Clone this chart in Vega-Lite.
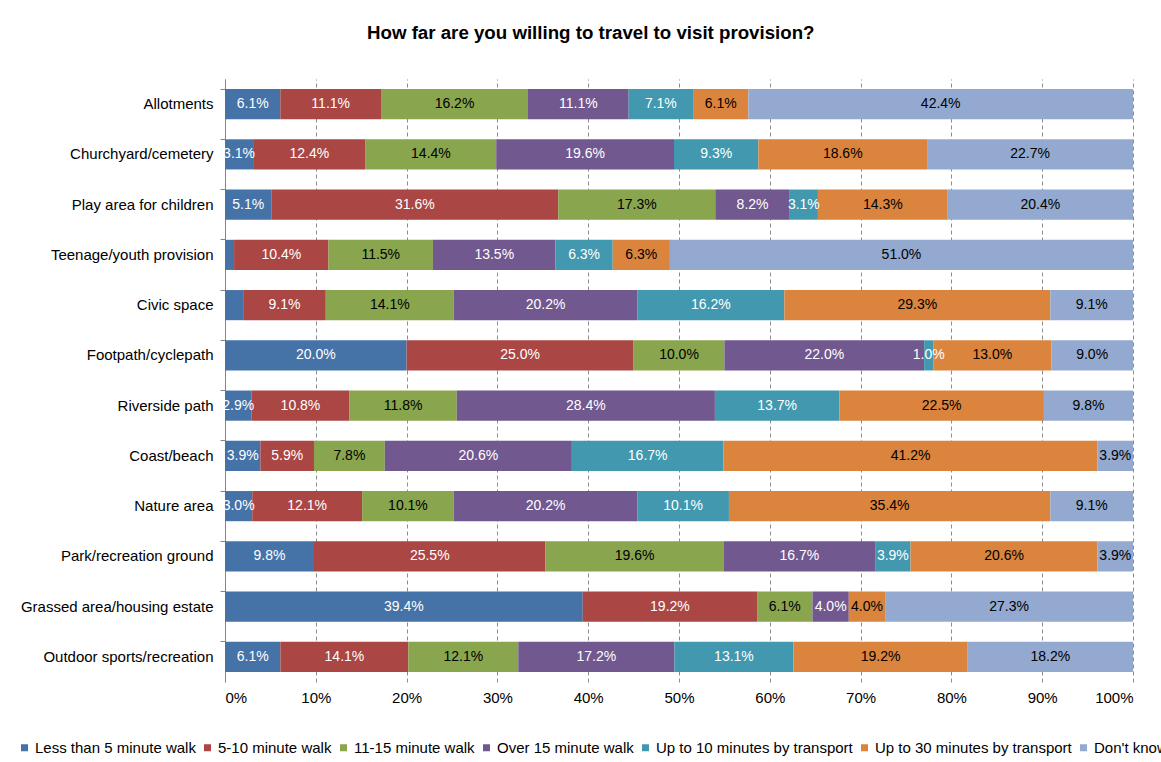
{
  "$schema": "https://vega.github.io/schema/vega-lite/v6.json",
  "width": 908,
  "height": 603,
  "autosize": {"type": "none"},
  "padding": {"left": 225, "top": 79, "right": 28, "bottom": 80},
  "background": "white",
  "config": {"view": {"stroke": null}, "font": "Liberation Sans"},
  "title": {
    "text": "How far are you willing  to travel to visit provision?",
    "anchor": "start",
    "frame": "group",
    "dx": 142,
    "offset": 36,
    "fontSize": 18.7,
    "fontWeight": "bold",
    "font": "Liberation Sans",
    "color": "#000000"
  },
  "data": {
    "values": [
      {"provision": "Allotments", "time": "Less than 5 minute walk", "pct": 6.1},
      {"provision": "Allotments", "time": "5-10 minute walk", "pct": 11.1},
      {"provision": "Allotments", "time": "11-15 minute walk", "pct": 16.2},
      {"provision": "Allotments", "time": "Over 15 minute walk", "pct": 11.1},
      {"provision": "Allotments", "time": "Up to 10 minutes by transport", "pct": 7.1},
      {"provision": "Allotments", "time": "Up to 30 minutes by transport", "pct": 6.1},
      {"provision": "Allotments", "time": "Don't know", "pct": 42.4},
      {"provision": "Churchyard/cemetery", "time": "Less than 5 minute walk", "pct": 3.1},
      {"provision": "Churchyard/cemetery", "time": "5-10 minute walk", "pct": 12.4},
      {"provision": "Churchyard/cemetery", "time": "11-15 minute walk", "pct": 14.4},
      {"provision": "Churchyard/cemetery", "time": "Over 15 minute walk", "pct": 19.6},
      {"provision": "Churchyard/cemetery", "time": "Up to 10 minutes by transport", "pct": 9.3},
      {"provision": "Churchyard/cemetery", "time": "Up to 30 minutes by transport", "pct": 18.6},
      {"provision": "Churchyard/cemetery", "time": "Don't know", "pct": 22.7},
      {"provision": "Play area for children", "time": "Less than 5 minute walk", "pct": 5.1},
      {"provision": "Play area for children", "time": "5-10 minute walk", "pct": 31.6},
      {"provision": "Play area for children", "time": "11-15 minute walk", "pct": 17.3},
      {"provision": "Play area for children", "time": "Over 15 minute walk", "pct": 8.2},
      {"provision": "Play area for children", "time": "Up to 10 minutes by transport", "pct": 3.1},
      {"provision": "Play area for children", "time": "Up to 30 minutes by transport", "pct": 14.3},
      {"provision": "Play area for children", "time": "Don't know", "pct": 20.4},
      {"provision": "Teenage/youth provision", "time": "Less than 5 minute walk", "pct": 1.0},
      {"provision": "Teenage/youth provision", "time": "5-10 minute walk", "pct": 10.4},
      {"provision": "Teenage/youth provision", "time": "11-15 minute walk", "pct": 11.5},
      {"provision": "Teenage/youth provision", "time": "Over 15 minute walk", "pct": 13.5},
      {"provision": "Teenage/youth provision", "time": "Up to 10 minutes by transport", "pct": 6.3},
      {"provision": "Teenage/youth provision", "time": "Up to 30 minutes by transport", "pct": 6.3},
      {"provision": "Teenage/youth provision", "time": "Don't know", "pct": 51.0},
      {"provision": "Civic space", "time": "Less than 5 minute walk", "pct": 2.0},
      {"provision": "Civic space", "time": "5-10 minute walk", "pct": 9.1},
      {"provision": "Civic space", "time": "11-15 minute walk", "pct": 14.1},
      {"provision": "Civic space", "time": "Over 15 minute walk", "pct": 20.2},
      {"provision": "Civic space", "time": "Up to 10 minutes by transport", "pct": 16.2},
      {"provision": "Civic space", "time": "Up to 30 minutes by transport", "pct": 29.3},
      {"provision": "Civic space", "time": "Don't know", "pct": 9.1},
      {"provision": "Footpath/cyclepath", "time": "Less than 5 minute walk", "pct": 20.0},
      {"provision": "Footpath/cyclepath", "time": "5-10 minute walk", "pct": 25.0},
      {"provision": "Footpath/cyclepath", "time": "11-15 minute walk", "pct": 10.0},
      {"provision": "Footpath/cyclepath", "time": "Over 15 minute walk", "pct": 22.0},
      {"provision": "Footpath/cyclepath", "time": "Up to 10 minutes by transport", "pct": 1.0},
      {"provision": "Footpath/cyclepath", "time": "Up to 30 minutes by transport", "pct": 13.0},
      {"provision": "Footpath/cyclepath", "time": "Don't know", "pct": 9.0},
      {"provision": "Riverside path", "time": "Less than 5 minute walk", "pct": 2.9},
      {"provision": "Riverside path", "time": "5-10 minute walk", "pct": 10.8},
      {"provision": "Riverside path", "time": "11-15 minute walk", "pct": 11.8},
      {"provision": "Riverside path", "time": "Over 15 minute walk", "pct": 28.4},
      {"provision": "Riverside path", "time": "Up to 10 minutes by transport", "pct": 13.7},
      {"provision": "Riverside path", "time": "Up to 30 minutes by transport", "pct": 22.5},
      {"provision": "Riverside path", "time": "Don't know", "pct": 9.8},
      {"provision": "Coast/beach", "time": "Less than 5 minute walk", "pct": 3.9},
      {"provision": "Coast/beach", "time": "5-10 minute walk", "pct": 5.9},
      {"provision": "Coast/beach", "time": "11-15 minute walk", "pct": 7.8},
      {"provision": "Coast/beach", "time": "Over 15 minute walk", "pct": 20.6},
      {"provision": "Coast/beach", "time": "Up to 10 minutes by transport", "pct": 16.7},
      {"provision": "Coast/beach", "time": "Up to 30 minutes by transport", "pct": 41.2},
      {"provision": "Coast/beach", "time": "Don't know", "pct": 3.9},
      {"provision": "Nature area", "time": "Less than 5 minute walk", "pct": 3.0},
      {"provision": "Nature area", "time": "5-10 minute walk", "pct": 12.1},
      {"provision": "Nature area", "time": "11-15 minute walk", "pct": 10.1},
      {"provision": "Nature area", "time": "Over 15 minute walk", "pct": 20.2},
      {"provision": "Nature area", "time": "Up to 10 minutes by transport", "pct": 10.1},
      {"provision": "Nature area", "time": "Up to 30 minutes by transport", "pct": 35.4},
      {"provision": "Nature area", "time": "Don't know", "pct": 9.1},
      {"provision": "Park/recreation ground", "time": "Less than 5 minute walk", "pct": 9.8},
      {"provision": "Park/recreation ground", "time": "5-10 minute walk", "pct": 25.5},
      {"provision": "Park/recreation ground", "time": "11-15 minute walk", "pct": 19.6},
      {"provision": "Park/recreation ground", "time": "Over 15 minute walk", "pct": 16.7},
      {"provision": "Park/recreation ground", "time": "Up to 10 minutes by transport", "pct": 3.9},
      {"provision": "Park/recreation ground", "time": "Up to 30 minutes by transport", "pct": 20.6},
      {"provision": "Park/recreation ground", "time": "Don't know", "pct": 3.9},
      {"provision": "Grassed area/housing estate", "time": "Less than 5 minute walk", "pct": 39.4},
      {"provision": "Grassed area/housing estate", "time": "5-10 minute walk", "pct": 19.2},
      {"provision": "Grassed area/housing estate", "time": "11-15 minute walk", "pct": 6.1},
      {"provision": "Grassed area/housing estate", "time": "Over 15 minute walk", "pct": 4.0},
      {"provision": "Grassed area/housing estate", "time": "Up to 10 minutes by transport", "pct": 0.0},
      {"provision": "Grassed area/housing estate", "time": "Up to 30 minutes by transport", "pct": 4.0},
      {"provision": "Grassed area/housing estate", "time": "Don't know", "pct": 27.3},
      {"provision": "Outdoor sports/recreation", "time": "Less than 5 minute walk", "pct": 6.1},
      {"provision": "Outdoor sports/recreation", "time": "5-10 minute walk", "pct": 14.1},
      {"provision": "Outdoor sports/recreation", "time": "11-15 minute walk", "pct": 12.1},
      {"provision": "Outdoor sports/recreation", "time": "Over 15 minute walk", "pct": 17.2},
      {"provision": "Outdoor sports/recreation", "time": "Up to 10 minutes by transport", "pct": 13.1},
      {"provision": "Outdoor sports/recreation", "time": "Up to 30 minutes by transport", "pct": 19.2},
      {"provision": "Outdoor sports/recreation", "time": "Don't know", "pct": 18.2}
    ]
  },
  "transform": [
    {"calculate": "indexof(['Less than 5 minute walk','5-10 minute walk','11-15 minute walk','Over 15 minute walk','Up to 10 minutes by transport','Up to 30 minutes by transport',\"Don't know\"], datum.time)", "as": "ord"},
    {"stack": "pct", "groupby": ["provision"], "sort": [{"field": "ord", "order": "ascending"}], "offset": "normalize", "as": ["x0", "x1"]},
    {"calculate": "(datum.x0 + datum.x1) / 2", "as": "xm"}
  ],
  "encoding": {
    "y": {
      "field": "provision",
      "type": "nominal",
      "sort": ["Allotments", "Churchyard/cemetery", "Play area for children", "Teenage/youth provision", "Civic space", "Footpath/cyclepath", "Riverside path", "Coast/beach", "Nature area", "Park/recreation ground", "Grassed area/housing estate", "Outdoor sports/recreation"],
      "scale": {"paddingInner": 0.4, "paddingOuter": 0.2},
      "axis": {
        "title": null,
        "labelFontSize": 15,
        "labelFont": "Liberation Sans",
        "labelColor": "#000000",
        "labelLimit": 400,
        "domainColor": "#868686",
        "tickColor": "#868686",
        "tickSize": 5,
        "bandPosition": 0,
        "labelPadding": 7,
        "grid": false
      }
    }
  },
  "layer": [
    {
      "mark": {"type": "bar"},
      "encoding": {
        "x": {
          "field": "x0",
          "type": "quantitative",
          "scale": {"domain": [0, 1], "nice": false},
          "axis": {
            "title": null,
            "format": ".0%",
            "values": [0, 0.1, 0.2, 0.3, 0.4, 0.5, 0.6, 0.7, 0.8, 0.9, 1],
            "grid": true,
            "gridDash": [4, 3],
            "gridColor": "#8c8c8c",
            "gridWidth": 1,
            "domain": false,
            "ticks": false,
            "labelPadding": 8,
            "labelFontSize": 15,
            "labelFont": "Liberation Sans",
            "labelColor": "#000000"
          }
        },
        "x2": {"field": "x1"},
        "color": {
          "field": "time",
          "type": "nominal",
          "scale": {
            "domain": ["Less than 5 minute walk", "5-10 minute walk", "11-15 minute walk", "Over 15 minute walk", "Up to 10 minutes by transport", "Up to 30 minutes by transport", "Don't know"],
            "range": ["#4572A7", "#AA4643", "#89A54E", "#71588F", "#4198AF", "#DB843D", "#93A9CF"]
          },
          "legend": {
            "orient": "none",
            "legendX": -208,
            "legendY": 661,
            "direction": "horizontal",
            "title": null,
            "symbolType": "square",
            "symbolSize": 49,
            "symbolStrokeWidth": 0,
            "labelFontSize": 15,
            "labelFont": "Liberation Sans",
            "labelColor": "#000000",
            "labelOffset": 3,
            "columnPadding": 4,
            "labelLimit": 400
          }
        }
      }
    },
    {
      "transform": [{"filter": "datum.pct >= 2.5 || datum.provision == 'Footpath/cyclepath'"}],
      "mark": {"type": "text", "fontSize": 14, "font": "Liberation Sans", "baseline": "middle", "align": "center"},
      "encoding": {
        "x": {"field": "xm", "type": "quantitative"},
        "text": {"value": {"expr": "format(datum.pct, '.1f') + '%'"}},
        "color": {
          "condition": {"test": "indexof(['Less than 5 minute walk','5-10 minute walk','Over 15 minute walk','Up to 10 minutes by transport'], datum.time) >= 0", "value": "#ffffff"},
          "value": "#000000"
        }
      }
    }
  ]
}
